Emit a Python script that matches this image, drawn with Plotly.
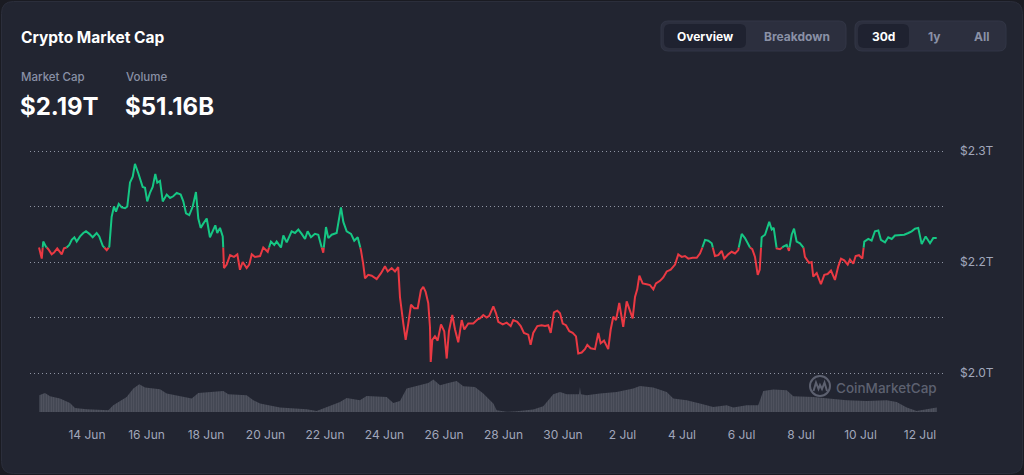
import pandas as pd
import plotly.graph_objects as go

START = "2024-06-12 00:00"

# Total crypto market cap: hours since START, value in trillions of USD
cap_hours = [9.3, 11.5, 12.7, 14.9, 16.8, 19.5, 21.4, 24.0, 25.7, 27.6, 29.4, 31.6, 33.7, 35.7, 37.8, 39.7,
             42.4, 45.0, 47.2, 49.9, 52.6, 55.8, 57.9, 60.7, 63.9, 66.0, 67.9, 69.8, 71.4, 73.6, 76.0, 78.7,
             80.5, 82.7, 84.9, 86.7, 89.4, 92.9, 94.8, 96.6, 98.8, 101.0, 103.1, 104.7, 106.9, 109.1, 112.3,
             115.0, 117.6, 120.4, 123.6, 125.7, 127.9, 130.5, 133.3, 135.9, 137.8, 139.7, 141.8, 144.6, 147.2,
             149.9, 151.5, 153.1, 155.3, 157.5, 158.0, 158.5, 160.7, 163.4, 166.6, 169.3, 171.4, 173.6, 176.8,
             178.9, 180.9, 183.5,
             187.6, 190.2, 193.8, 196.4, 199.1, 201.0, 204.5, 206.4, 209.1, 213.1, 215.8, 218.5, 221.2, 223.9,
             226.0, 228.7, 231.9, 234.6, 236.8, 238.6, 240.8, 242.7, 245.4, 249.4, 252.9, 254.8, 257.5, 261.0,
             263.6, 266.4, 269.0, 270.9, 272.3, 274.9, 277.7, 281.7, 285.2, 288.4, 290.6, 293.8, 296.5, 299.1,
             300.5, 303.2, 305.1, 307.2, 309.4, 312.0, 314.8, 317.4, 319.3, 321.2, 323.3, 324.7, 325.3, 326.6,
             328.7, 330.9, 333.6, 336.2, 338.2, 340.0, 342.7, 344.9, 347.5, 350.3, 352.4, 355.6, 359.6, 363.2,
             365.0, 367.7,
             370.4, 372.5, 375.8, 378.0, 379.8, 383.4, 386.6, 389.8, 391.9, 395.1, 397.9, 400.5, 404.0, 405.9,
             408.0, 411.3, 414.8, 417.5, 420.1, 422.1, 424.7, 427.4, 429.6, 431.8, 434.4, 437.1, 439.8, 442.5,
             444.3, 447.1, 449.7, 451.6, 454.3, 457.8, 460.5, 462.4, 465.1, 468.5, 470.5, 472.6, 474.8, 477.4,
             480.6, 483.4, 485.5, 488.2, 490.1, 491.9, 493.6, 496.3, 499.5, 502.2, 504.9, 507.0, 510.3, 512.9,
             515.7, 518.9, 522.4, 525.0, 527.8, 530.4, 533.1, 536.6, 539.9, 542.5, 544.7, 546.6,
             549.2, 552.0, 554.6, 557.3, 560.0, 562.1, 565.3, 568.1, 570.8, 573.4, 576.2, 578.8, 582.0, 584.7,
             586.9, 589.1, 590.7, 592.3, 595.0, 598.4, 600.4, 602.0, 604.4, 607.1, 609.7, 612.5, 614.3, 616.5,
             618.4, 620.5, 623.2, 625.9, 627.2, 630.5, 632.6, 633.9, 636.7, 640.1, 642.8, 645.5, 648.2, 651.4,
             654.1, 656.3, 658.9, 661.7, 663.5, 666.2, 668.1, 670.8, 673.5, 675.1, 678.3, 681.0, 683.7, 686.4,
             688.5, 691.8, 694.4, 697.2, 699.8, 703.9, 707.3, 710.6, 713.3, 716.0, 718.6, 721.4, 724.6, 728.1,
             730.7, 733.5]

cap_values = [2.187, 2.174, 2.194, 2.188, 2.185, 2.179, 2.181, 2.186, 2.182, 2.179, 2.186, 2.187, 2.190, 2.196,
              2.199, 2.194, 2.200, 2.204, 2.206, 2.203, 2.199, 2.204, 2.200, 2.189, 2.184, 2.188, 2.223, 2.235,
              2.229, 2.238, 2.234, 2.233, 2.235, 2.263, 2.270, 2.285, 2.274, 2.258, 2.257, 2.241, 2.251, 2.258,
              2.273, 2.263, 2.265, 2.241, 2.249, 2.245, 2.247, 2.251, 2.249, 2.241, 2.227, 2.225, 2.235, 2.252,
              2.221, 2.210, 2.215, 2.221, 2.199, 2.208, 2.213, 2.204, 2.210, 2.200, 2.184, 2.163, 2.167, 2.178,
              2.176, 2.179, 2.161, 2.170, 2.163, 2.167, 2.179, 2.176,
              2.177, 2.187, 2.182, 2.194, 2.190, 2.194, 2.187, 2.201, 2.193, 2.206, 2.204, 2.208, 2.203, 2.197,
              2.206, 2.199, 2.203, 2.202, 2.190, 2.181, 2.211, 2.198, 2.202, 2.204, 2.234, 2.217, 2.206, 2.203,
              2.195, 2.199, 2.184, 2.167, 2.151, 2.155, 2.154, 2.150, 2.157, 2.165, 2.159, 2.163, 2.159, 2.164,
              2.129, 2.098, 2.079, 2.098, 2.120, 2.116, 2.116, 2.137, 2.141, 2.135, 2.122, 2.094, 2.053, 2.079,
              2.083, 2.078, 2.097, 2.089, 2.057, 2.089, 2.108, 2.091, 2.076, 2.102, 2.091, 2.098, 2.098, 2.103,
              2.104, 2.108,
              2.105, 2.107, 2.118, 2.110, 2.100, 2.097, 2.099, 2.095, 2.102, 2.100, 2.095, 2.087, 2.085, 2.073,
              2.087, 2.095, 2.096, 2.095, 2.096, 2.087, 2.111, 2.113, 2.110, 2.098, 2.096, 2.089, 2.087, 2.083,
              2.063, 2.064, 2.068, 2.073, 2.069, 2.068, 2.087, 2.075, 2.078, 2.068, 2.091, 2.106, 2.102, 2.122,
              2.094, 2.124, 2.115, 2.104, 2.129, 2.138, 2.154, 2.145, 2.144, 2.143, 2.138, 2.145, 2.148, 2.152,
              2.159, 2.161, 2.167, 2.179, 2.176, 2.177, 2.174, 2.175, 2.175, 2.180, 2.188, 2.196,
              2.195, 2.192, 2.177, 2.178, 2.183, 2.174, 2.179, 2.182, 2.180, 2.184, 2.203, 2.198, 2.188, 2.185,
              2.176, 2.155, 2.161, 2.199, 2.202, 2.217, 2.208, 2.210, 2.186, 2.185, 2.188, 2.190, 2.183, 2.202,
              2.209, 2.194, 2.192, 2.188, 2.176, 2.169, 2.170, 2.153, 2.157, 2.144, 2.155, 2.156, 2.160, 2.149,
              2.165, 2.174, 2.172, 2.167, 2.173, 2.168, 2.177, 2.178, 2.174, 2.194, 2.197, 2.195, 2.206, 2.207,
              2.196, 2.193, 2.199, 2.197, 2.201, 2.202, 2.202, 2.204, 2.206, 2.209, 2.210, 2.191, 2.200, 2.192,
              2.198, 2.198]

# 24h volume: hours since START, value in billions of USD
vol_hours = [9.5, 14.1, 18.2, 26.2, 34.3, 38.3, 47.8, 65.2, 69.2, 74.6, 80.0, 85.4, 90.2, 94.8, 101.5, 106.9,
             112.3, 123.0, 132.5, 137.8, 147.2, 158.0, 162.0, 176.8, 182.2, 187.6, 203.7, 225.2, 233.3, 241.4,
             252.1, 257.5, 268.2, 273.6, 289.8, 295.1, 300.5, 305.9, 311.2, 316.6, 323.3, 327.4, 332.8, 339.5,
             346.2, 351.6, 361.0, 367.7, 375.8, 378.5, 386.6, 394.7, 408.0, 416.1, 424.2, 429.6, 435.0, 444.9,
             445.7, 446.5, 451.1, 461.8, 475.3, 488.7, 494.1, 504.8, 515.7, 521.0, 531.8, 542.5, 553.2, 564.1,
             569.4, 580.2, 589.5, 593.6, 601.7, 612.5, 617.8, 633.9, 644.7, 660.9, 677.0, 693.1, 701.2, 709.3,
             717.3, 722.7, 733.5]
vol_values = [81.8, 87.5, 79.3, 73.5, 62.5, 50.0, 46.8, 44.3, 56.8, 66.8, 77.5, 98.5, 109.3, 101.0, 98.5, 96.8,
              86.0, 79.3, 73.5, 87.5, 90.0, 92.5, 84.3, 81.8, 69.3, 61.0, 51.0, 46.8, 42.5, 52.5, 65.0, 75.0,
              69.3, 80.0, 77.5, 62.5, 67.5, 98.5, 102.5, 106.8, 112.5, 121.0, 106.8, 112.5, 117.5, 104.3, 102.5,
              86.0, 61.0, 44.3, 40.5, 41.8, 46.0, 54.3, 84.3, 90.0, 84.3, 84.3, 102.5, 84.3, 81.8, 86.0, 90.0,
              98.5, 105.0, 101.0, 90.0, 73.5, 69.3, 61.0, 52.5, 56.8, 51.0, 56.8, 56.8, 92.5, 96.0, 94.3, 79.3,
              77.5, 73.5, 69.3, 67.5, 69.3, 65.0, 51.0, 42.5, 46.0, 51.16]

y_tick_values = [2.04, 2.105, 2.17, 2.235, 2.30]
y_tick_labels = ["$2.0T", "", "$2.2T", "", "$2.3T"]

title_text = "Crypto Market Cap"
stat_labels = ["Market Cap", "Volume"]
stat_values = ["$2.19T", "$51.16B"]
view_buttons = ["Overview", "Breakdown"]
range_buttons = ["30d", "1y", "All"]
watermark = "CoinMarketCap"

assert len(cap_hours) == len(cap_values)
assert len(vol_hours) == len(vol_values)

GREEN = "#16c784"
RED = "#ea3943"
BG = "#222531"
MUTED = "#a1a7bb"

t0 = pd.Timestamp(START)
def to_time(hours):
    return [t0 + pd.Timedelta(hours=h) for h in hours]

# split the line into above / below the opening value
base = cap_values[0]
hrs, vals = [], []
for i, (h, v) in enumerate(zip(cap_hours, cap_values)):
    if i:
        a, b = cap_values[i - 1] - base, v - base
        if a * b < 0:
            f = a / (a - b)
            hrs.append(cap_hours[i - 1] + f * (h - cap_hours[i - 1]))
            vals.append(base)
    hrs.append(h)
    vals.append(v)
up = [v if v >= base else None for v in vals]
dn = [v if v <= base else None for v in vals]
line_t = to_time(hrs)

# plot area in pixels
L, R, T, B = 30, 946, 140, 412
def px(x):
    return (x - L) / (R - L)
def py(y):
    return (B - y) / (B - T)

VOL_PER_PX = 2.5

fig = go.Figure()
# volume on the base y axis (drawn underneath)
fig.add_trace(go.Scatter(
    x=to_time(vol_hours), y=vol_values, yaxis="y", mode="lines",
    line=dict(width=0, color="#4a4e5c"), fill="tozeroy", fillcolor="#3f4250",
    fillpattern=dict(shape="|", size=2.5, solidity=0.45, fgcolor="#676b78", bgcolor="#40434f"),
    hoverinfo="skip", showlegend=False))
# market cap line on the overlaying axis
fig.add_trace(go.Scatter(x=line_t, y=dn, yaxis="y2", mode="lines", line=dict(color=RED, width=2),
                         connectgaps=False, showlegend=False))
fig.add_trace(go.Scatter(x=line_t, y=up, yaxis="y2", mode="lines", line=dict(color=GREEN, width=2),
                         connectgaps=False, showlegend=False))

shapes = []
def rrect(x0, y0, x1, y1, r, fill, line=None):
    pts = [
        ("M", [(x0 + r, y0)]), ("L", [(x1 - r, y0)]), ("Q", [(x1, y0), (x1, y0 + r)]),
        ("L", [(x1, y1 - r)]), ("Q", [(x1, y1), (x1 - r, y1)]), ("L", [(x0 + r, y1)]),
        ("Q", [(x0, y1), (x0, y1 - r)]), ("L", [(x0, y0 + r)]), ("Q", [(x0, y0), (x0 + r, y0)]),
    ]
    path = " ".join(c + " " + " ".join(f"{px(a):.5f},{py(b):.5f}" for a, b in p) for c, p in pts) + " Z"
    shapes.append(dict(type="path", xref="paper", yref="paper", path=path, fillcolor=fill,
                       line=dict(width=1 if line else 0, color=line or fill), layer="below"))

# card
rrect(1.5, 1.5, 1022.5, 473.5, 12, BG, "#2b2e3b")
# toggle groups
rrect(661, 21, 846, 51, 7, "#2c2f3e", "#323646")
rrect(664, 24, 746, 48, 6, "#1f2230")
rrect(855, 21, 1006, 51, 7, "#2c2f3e", "#323646")
rrect(858, 24, 909, 48, 6, "#1f2230")

# watermark logo
shapes.append(dict(type="circle", xref="paper", yref="paper", x0=px(810), x1=px(830), y0=py(376), y1=py(396),
                   line=dict(color="#5d6170", width=2)))
wave = [(813.5, 391), (816, 382.5), (818.5, 389), (820, 385), (822, 389), (824.5, 382.5), (827, 391)]
shapes.append(dict(type="path", xref="paper", yref="paper",
                   path="M " + " L ".join(f"{px(a):.5f},{py(b):.5f}" for a, b in wave),
                   line=dict(color="#5d6170", width=2)))

ann = []
def text(x, y, s, size, color, weight=400, anchor="left"):
    ann.append(dict(xref="paper", yref="paper", x=px(x), y=py(y), text=s, showarrow=False,
                    xanchor=anchor, yanchor="middle",
                    font=dict(family="Inter", size=size, color=color, weight=weight)))

text(18.5, 37.5, title_text, 15.5, "#ffffff", 700)
text(18.5, 76.5, stat_labels[0], 11.5, "#8a91a6", 500)
text(123.5, 76.5, stat_labels[1], 11.5, "#8a91a6", 500)
text(17.5, 106, stat_values[0], 24, "#ffffff", 700)
text(122.5, 106, stat_values[1], 24, "#ffffff", 700)
text(705, 36, view_buttons[0], 12, "#ffffff", 700, "center")
text(797, 36, view_buttons[1], 12, "#8a91a6", 700, "center")
text(883.5, 36, range_buttons[0], 12, "#ffffff", 700, "center")
text(934, 36, range_buttons[1], 12, "#8a91a6", 700, "center")
text(981.5, 36, range_buttons[2], 12, "#8a91a6", 700, "center")
text(886.7, 387.5, watermark, 13.5, "#5d6170", 500, "center")

fig.update_layout(
    width=1024, height=475, autosize=False,
    margin=dict(l=L, r=1024 - R, t=T, b=475 - B),
    paper_bgcolor="#1a1b22", plot_bgcolor="rgba(0,0,0,0)",
    font=dict(family="Inter", color=MUTED, size=12),
    showlegend=False,
    shapes=shapes, annotations=ann,
    xaxis=dict(type="date", range=[t0 + pd.Timedelta(hours=2.02), t0 + pd.Timedelta(hours=741.0)],
               tick0="2024-06-14", dtick=2 * 86400000, tickformat="%-d %b",
               showgrid=False, zeroline=False, showline=False, ticks="",
               ticklabelstandoff=14, tickfont=dict(size=12, color=MUTED)),
    yaxis=dict(range=[40, 40 + (B - T) * VOL_PER_PX], visible=False, showgrid=False, fixedrange=True),
    yaxis2=dict(range=[1.9944, 2.3129], overlaying="y", side="right",
                tickvals=y_tick_values, ticktext=y_tick_labels,
                showgrid=True, gridcolor="#8f94a3", griddash="1px,3px", gridwidth=1,
                zeroline=False, showline=False, ticks="", ticklabelstandoff=13,
                tickfont=dict(size=12, color=MUTED)),
)

fig.write_html("out.html")
